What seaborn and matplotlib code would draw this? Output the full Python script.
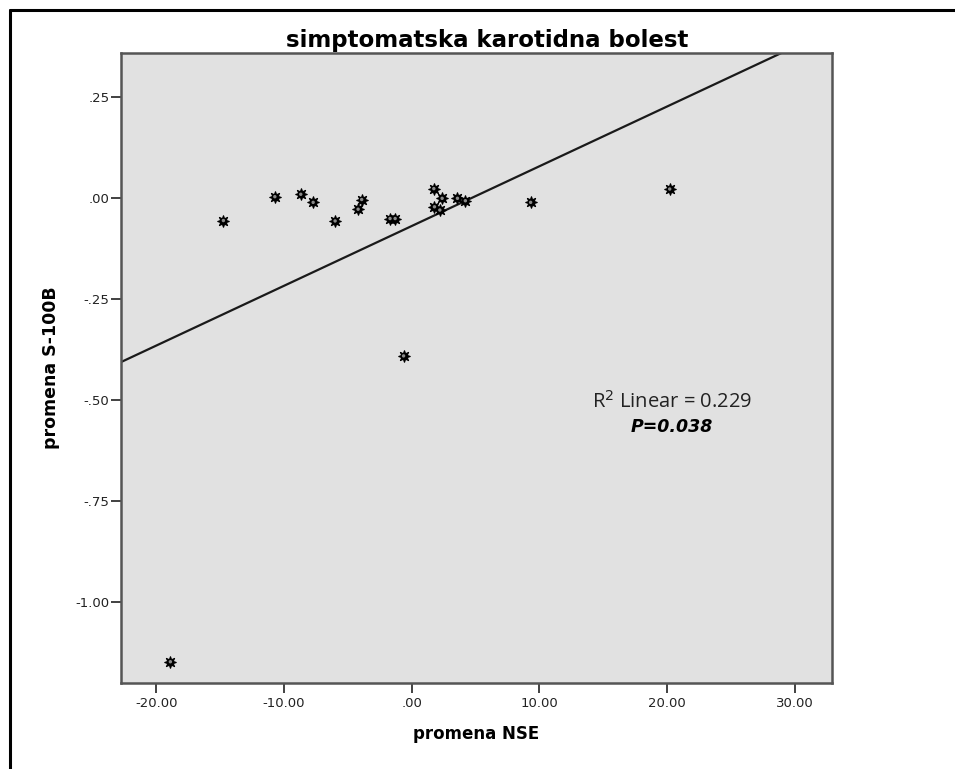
import numpy as np
import pandas as pd
import matplotlib.pyplot as plt
import seaborn as sns
from matplotlib.lines import Line2D

# podaci procitani sa grafika
nse = [-18.9, -14.75, -10.72, -8.69, -7.72, -6.0, -4.2, -3.92, -1.7, -1.3,
       -0.64, 1.73, 1.78, 2.2, 2.38, 3.58, 4.2, 9.31, 20.2]
s100b = [-1.147, -0.055, 0.004, 0.010, -0.010, -0.056, -0.027, -0.003, -0.050, -0.050,
         -0.390, 0.024, -0.021, -0.029, 0.000, 0.000, -0.006, -0.010, 0.023]

x_ticks = [-20, -10, 0, 10, 20, 30]
x_tick_labels = ["-20.00", "-10.00", ".00", "10.00", "20.00", "30.00"]
y_ticks = [0.25, 0.0, -0.25, -0.5, -0.75, -1.0]
y_tick_labels = [".25", ".00", "-.25", "-.50", "-.75", "-1.00"]

r2_text = "R$^2$ Linear = 0.229"
p_text = "P=0.038"

df = pd.DataFrame({"promena NSE": nse, "promena S-100B": s100b})

sns.set_style("white")
plt.rcParams["font.family"] = ["DejaVu Sans"]
plt.rcParams["text.color"] = "black"
plt.rcParams["axes.labelcolor"] = "black"

fig = plt.figure(figsize=(9.55, 7.69), dpi=100)
ax = fig.add_axes([0.1264, 0.1118, 0.8712 - 0.1264, 0.9311 - 0.1118])
ax.set_facecolor("#e1e1e1")
ax.set_xlim(-22.79, 32.91)
ax.set_ylim(-1.1997, 0.3597)

# regresiona prava preko cele sirine ose
sns.regplot(data=df, x="promena NSE", y="promena S-100B", ax=ax, ci=None,
            scatter=False, truncate=False,
            line_kws={"color": "#1a1a1a", "lw": 1.6})

# tacke (SPSS zvezdica)
sns.scatterplot(data=df, x="promena NSE", y="promena S-100B", ax=ax,
                marker=(8, 1, 0), s=70, color="black", edgecolor="black",
                linewidth=0.8, zorder=3)
sns.scatterplot(data=df, x="promena NSE", y="promena S-100B", ax=ax,
                marker="o", s=6, color="#8a8a8a", edgecolor="none",
                linewidth=0, zorder=4)

ax.set_xticks(x_ticks)
ax.set_xticklabels(x_tick_labels)
ax.set_yticks(y_ticks)
ax.set_yticklabels(y_tick_labels)
ax.tick_params(axis="both", direction="out", length=7, width=1.3,
               color="#333333", labelsize=9.5, labelcolor="#222222",
               bottom=True, left=True)
ax.tick_params(axis="x", pad=3)
ax.tick_params(axis="y", pad=1)

for sp in ax.spines.values():
    sp.set_visible(True)
    sp.set_color("#555555")
    sp.set_linewidth(1.8)

ax.set_xlabel("promena NSE", fontsize=12, fontweight="bold", labelpad=11)
ax.set_ylabel("promena S-100B", fontsize=12.5, fontweight="bold", labelpad=11)
fig.text(0.5105, 0.9389, "simptomatska karotidna bolest", ha="center", va="baseline",
         fontsize=16.5, fontweight="bold")

ax.text(20.36, -0.503, r2_text, ha="center", va="center", fontsize=14.5,
        family=["Open Sans", "DejaVu Sans"], color="#222222")
ax.text(20.36, -0.566, p_text, ha="center", va="center", fontsize=12.5,
        family=["DejaVu Sans"], fontweight="bold", style="italic")

# okvir slike (gore i levo)
fig.add_artist(Line2D([10 / 955, 10 / 955], [0, 1 - 10 / 769],
                      transform=fig.transFigure, color="black", lw=2.2))
fig.add_artist(Line2D([10 / 955, 1], [1 - 10 / 769, 1 - 10 / 769],
                      transform=fig.transFigure, color="black", lw=2.2))

fig.savefig("out.png", dpi=100)
